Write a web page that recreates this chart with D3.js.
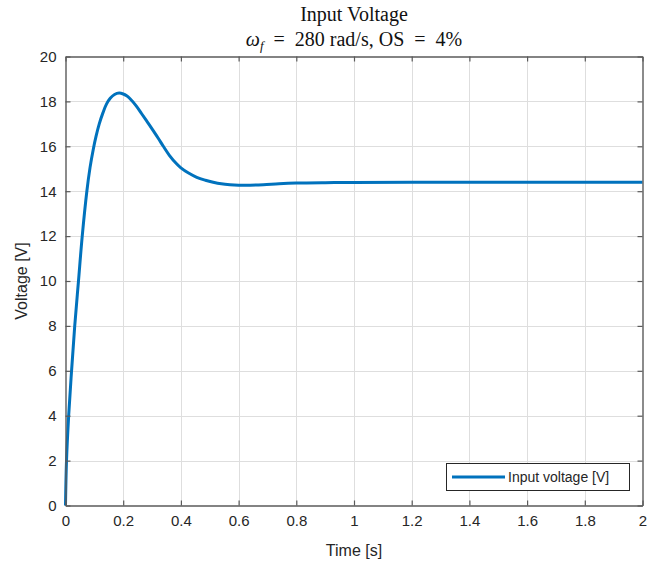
<!DOCTYPE html>
<html>
<head>
<meta charset="utf-8">
<script src="https://cdn.jsdelivr.net/npm/d3@7"></script>
<style>
  html, body { margin: 0; padding: 0; background: #fff; }
  svg { display: block; }
</style>
</head>
<body>
<div id="chart"></div>
<script>
// Input voltage step response samples
const timeS = [0, 0.0035, 0.011, 0.021, 0.032, 0.045, 0.058, 0.074, 0.085, 0.096, 0.106, 0.117, 0.13, 0.142, 0.155, 0.17, 0.186, 0.2, 0.212, 0.223, 0.245, 0.264, 0.284, 0.304, 0.322, 0.339, 0.36, 0.385, 0.4, 0.425, 0.455, 0.485, 0.512, 0.54, 0.57, 0.6, 0.64, 0.686, 0.74, 0.8, 0.9, 1.0, 1.2, 1.5, 2.0];
const voltage = [0, 2, 4, 6, 8, 10, 12, 14, 15.05, 15.85, 16.45, 17, 17.5, 17.88, 18.14, 18.31, 18.37, 18.33, 18.25, 18.13, 17.8, 17.45, 17.08, 16.7, 16.35, 16.0, 15.6, 15.22, 15.04, 14.82, 14.62, 14.49, 14.4, 14.33, 14.29, 14.27, 14.27, 14.29, 14.33, 14.36, 14.38, 14.39, 14.4, 14.4, 14.4];
const xTicks = [0, 0.2, 0.4, 0.6, 0.8, 1, 1.2, 1.4, 1.6, 1.8, 2];
const yTicks = [0, 2, 4, 6, 8, 10, 12, 14, 16, 18, 20];
const seriesName = "Input voltage [V]";

const W = 647, H = 567;
const L = 65.5, R = 642.5, T = 56.5, B = 505.5;

const svg = d3.select("#chart").append("svg")
  .attr("width", W).attr("height", H);

const x = d3.scaleLinear().domain([0, 2]).range([L, R]);
const y = d3.scaleLinear().domain([0, 20]).range([B, T]);

const axisColor = "#5a5a5a";
const textColor = "#262626";
const sans = "'Liberation Sans', Arial, sans-serif";
const serif = "'Liberation Serif', 'Times New Roman', serif";

// grid
const grid = svg.append("g");
grid.selectAll("line.vx").data(xTicks.slice(1, -1)).enter().append("line")
  .attr("x1", d => Math.round(x(d)) + 0.5).attr("x2", d => Math.round(x(d)) + 0.5)
  .attr("y1", T).attr("y2", B)
  .attr("stroke", "#dedede").attr("stroke-width", 1);
grid.selectAll("line.hy").data(yTicks.slice(1, -1)).enter().append("line")
  .attr("y1", d => Math.round(y(d)) + 0.5).attr("y2", d => Math.round(y(d)) + 0.5)
  .attr("x1", L).attr("x2", R)
  .attr("stroke", "#dedede").attr("stroke-width", 1);

// data line
const line = d3.line()
  .x((d, i) => x(timeS[i]))
  .y(d => y(d))
  .curve(d3.curveCatmullRom.alpha(0.5));
svg.append("path")
  .datum(voltage)
  .attr("d", line)
  .attr("fill", "none")
  .attr("stroke", "#0072BD")
  .attr("stroke-width", 3)
  .attr("stroke-linejoin", "round");

// axes (ticks inside, box on all sides)
const tickLen = 5;
const axBottom = d3.axisBottom(x).tickValues(xTicks).tickSizeInner(-tickLen).tickSizeOuter(0)
  .tickPadding(10).tickFormat(d3.format("~g"));
const axLeft = d3.axisLeft(y).tickValues(yTicks).tickSizeInner(-tickLen).tickSizeOuter(0)
  .tickPadding(9).tickFormat(d3.format("~g"));
const axTop = d3.axisTop(x).tickValues(xTicks).tickSizeInner(-tickLen).tickSizeOuter(0).tickFormat("");
const axRight = d3.axisRight(y).tickValues(yTicks).tickSizeInner(-tickLen).tickSizeOuter(0).tickFormat("");

function style(g) {
  g.select(".domain").attr("stroke", axisColor).attr("stroke-width", 1.4);
  g.selectAll(".tick line").attr("stroke", axisColor).attr("stroke-width", 1.2);
  g.selectAll(".tick text").attr("fill", textColor)
    .style("font-family", sans).style("font-size", "15px");
}
svg.append("g").attr("transform", `translate(0,${B})`).call(axBottom).call(style);
svg.append("g").attr("transform", `translate(${L},0)`).call(axLeft).call(style);
svg.append("g").attr("transform", `translate(0,${T})`).call(axTop).call(style);
svg.append("g").attr("transform", `translate(${R},0)`).call(axRight).call(style);

// axis labels
svg.append("text")
  .attr("x", (L + R) / 2).attr("y", 556)
  .attr("text-anchor", "middle")
  .attr("fill", textColor)
  .style("font-family", sans).style("font-size", "16px")
  .text("Time [s]");
svg.append("text")
  .attr("transform", `translate(27,${(T + B) / 2}) rotate(-90)`)
  .attr("text-anchor", "middle")
  .attr("fill", textColor)
  .style("font-family", sans).style("font-size", "16px")
  .text("Voltage [V]");

// title
const cx = (L + R) / 2;
svg.append("text")
  .attr("x", cx).attr("y", 21)
  .attr("text-anchor", "middle").attr("fill", "#111")
  .style("font-family", serif).style("font-size", "20px")
  .text("Input Voltage");
const sub = svg.append("text")
  .attr("x", cx).attr("y", 46)
  .attr("text-anchor", "middle").attr("fill", "#111")
  .style("font-family", serif).style("font-size", "20px")
  .attr("xml:space", "preserve")
  .style("white-space", "pre");
sub.append("tspan").style("font-style", "italic").text("ω");
sub.append("tspan").attr("dy", 4).style("font-style", "italic").style("font-size", "13px").text("f");
sub.append("tspan").attr("dy", -4).text("  =  280 rad/s, OS  =  4%");

// legend
const lg = svg.append("g");
lg.append("rect")
  .attr("x", 446.5).attr("y", 463.5).attr("width", 183).attr("height", 27)
  .attr("fill", "#fff").attr("stroke", "#262626").attr("stroke-width", 1);
lg.append("line")
  .attr("x1", 452).attr("x2", 505).attr("y1", 477).attr("y2", 477)
  .attr("stroke", "#0072BD").attr("stroke-width", 3);
lg.append("text")
  .attr("x", 508).attr("y", 482)
  .attr("fill", textColor)
  .style("font-family", sans).style("font-size", "14px")
  .text(seriesName);
</script>
</body>
</html>
